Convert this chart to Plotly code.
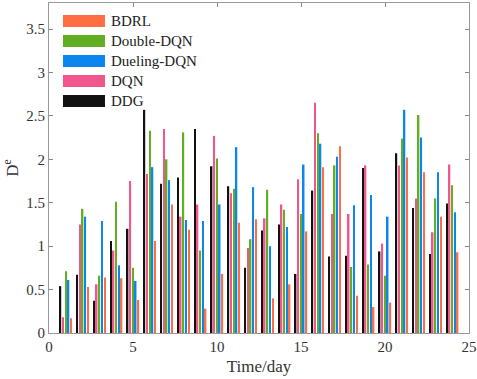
import plotly.graph_objects as go

days = list(range(1, 25))

bdrl = [0.17, 0.53, 0.64, 0.63, 0.38, 1.06, 1.48, 1.19, 0.28, 0.68, 1.27, 1.31,
        0.40, 0.56, 1.17, 1.91, 2.15, 0.43, 0.30, 0.35, 2.02, 1.85, 1.34, 0.93]
double_dqn = [0.71, 1.43, 0.66, 1.51, 0.75, 2.33, 2.00, 2.31, 0.95, 2.01, 1.66, 1.08,
              1.65, 1.42, 1.37, 2.30, 1.93, 0.76, 0.79, 0.66, 2.24, 2.51, 1.55, 1.70]
dueling_dqn = [0.61, 1.34, 1.29, 0.78, 0.60, 1.91, 1.76, 1.30, 1.29, 1.48, 2.14, 1.68,
               1.00, 1.22, 1.94, 2.18, 2.03, 1.47, 1.59, 1.34, 2.57, 2.25, 1.85, 1.39]
dqn = [0.18, 1.25, 0.56, 0.95, 1.75, 1.83, 2.35, 1.34, 1.48, 2.27, 1.61, 0.98,
       1.32, 1.48, 1.77, 2.65, 1.37, 1.37, 1.93, 1.03, 1.93, 1.55, 1.16, 1.94]
ddg = [0.54, 0.67, 0.37, 1.06, 1.20, 2.57, 1.72, 1.79, 2.35, 1.92, 1.69, 0.75,
       1.18, 1.25, 0.68, 1.64, 0.88, 0.89, 1.90, 0.94, 2.07, 1.44, 0.91, 1.49]

x_ticks = [0, 5, 10, 15, 20, 25]
y_ticks = [0, 0.5, 1, 1.5, 2, 2.5, 3, 3.5]
y_tick_labels = ["0", "0.5", "1", "1.5", "2", "2.5", "3", "3.5"]

colors = {
    "BDRL": "#FF6E42",
    "Double-DQN": "#62AE22",
    "Dueling-DQN": "#0A86EE",
    "DQN": "#F0558C",
    "DDG": "#111111",
}
values = {"BDRL": bdrl, "Double-DQN": double_dqn, "Dueling-DQN": dueling_dqn,
          "DQN": dqn, "DDG": ddg}
# order of bars within a group (left to right)
bar_order = ["DDG", "DQN", "Double-DQN", "Dueling-DQN", "BDRL"]
# order of legend entries (top to bottom)
legend_order = ["BDRL", "Double-DQN", "Dueling-DQN", "DQN", "DDG"]

fig = go.Figure()
for name in bar_order:
    fig.add_trace(go.Bar(x=days, y=values[name], name=name,
                         marker_color=colors[name], marker_line_width=0,
                         showlegend=False))

serif = "Liberation Serif, Times New Roman, Times, serif"

# legend drawn as wide colour patches with text, like the original
for i, name in enumerate(legend_order):
    yc = 0.9455 - i * 0.0606
    fig.add_shape(type="rect", xref="paper", yref="paper",
                  x0=0.0333, x1=0.1333, y0=yc - 0.0182, y1=yc + 0.0182,
                  fillcolor=colors[name], line_width=0)
    fig.add_annotation(xref="paper", yref="paper", x=0.143, y=yc,
                       text=name, showarrow=False, xanchor="left", yanchor="middle",
                       font=dict(family=serif, size=15, color="#222222"))

fig.update_layout(
    barmode="group",
    bargap=0.2,
    bargroupgap=0.42,
    width=477, height=379,
    margin=dict(l=49, r=8, t=3, b=46),
    plot_bgcolor="white",
    paper_bgcolor="white",
    font=dict(family=serif, size=15, color="#333333"),
    showlegend=False,
)
fig.update_xaxes(range=[0, 25], tickvals=x_ticks, ticks="inside", ticklen=4,
                 tickcolor="#888888", showline=True, linecolor="#999999",
                 mirror="ticks", showgrid=False, zeroline=False, automargin=False,
                 title=dict(text="Time/day", font=dict(family=serif, size=17), standoff=6))
fig.update_yaxes(range=[0, 3.8], tickvals=y_ticks, ticktext=y_tick_labels,
                 ticks="inside", ticklen=4, tickcolor="#888888", showline=True,
                 linecolor="#999999", mirror="ticks", showgrid=False, zeroline=False,
                 automargin=False,
                 title=dict(text="D<sup>e</sup>", font=dict(family=serif, size=17), standoff=6))

fig.write_html("out.html", config={"displayModeBar": False},
               post_script="document.body.style.margin='0px';")
